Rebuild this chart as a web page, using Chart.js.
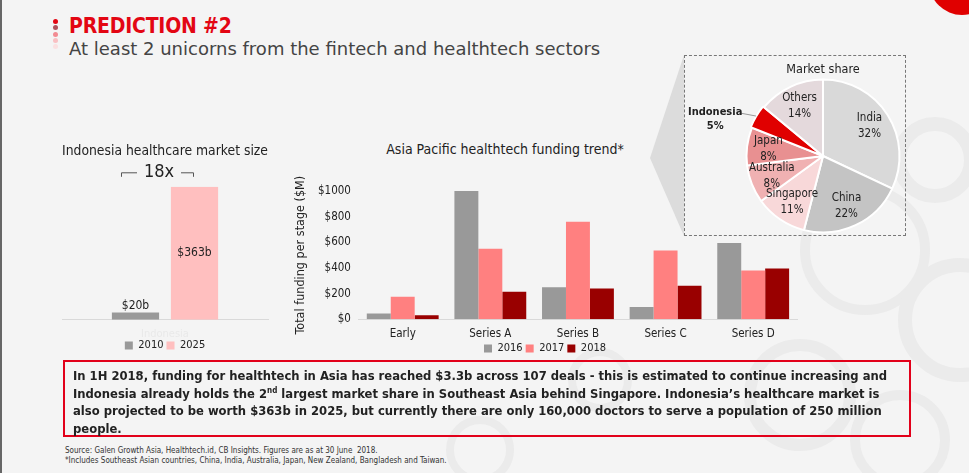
<!DOCTYPE html>
<html>
<head>
<meta charset="utf-8">
<script src="https://cdn.jsdelivr.net/npm/chart.js@4.4.0/dist/chart.umd.min.js"></script>
<style>
  html, body { margin: 0; padding: 0; }
  body {
    width: 969px; height: 473px; position: relative; overflow: hidden;
    background: #f4f4f4; font-family: "DejaVu Sans Condensed", "DejaVu Sans", sans-serif; color: #222;
  }
  .abs { position: absolute; }
  #edge { left: 0; top: 0; width: 2px; height: 473px; background: #666; }
  #dots { left: 53px; top: 19px; }
  #dots i { display: block; width: 5px; height: 5px; border-radius: 3px; margin-bottom: 1.3px; }
  #head1 { left: 69px; top: 14px; font-size: 21px; font-weight: bold; color: #e30613; letter-spacing: -0.2px; }
  #head2 { left: 69px; top: 38px; font-size: 18px; color: #444; font-family: "DejaVu Sans", sans-serif; }
  #fundTitle { left: 355px; top: 141px; width: 300px; text-align: center; font-size: 14px; }
  #note { left: 63px; top: 360px; width: 836px; height: 68px; border: 2px solid #e2001a; white-space: nowrap;
          font-size: 12.9px; font-weight: bold; line-height: 17.6px; padding: 5px 0 0 8px; }
  #note sup { font-size: 8px; line-height: 0; }
  #src { left: 65px; top: 446px; font-size: 8px; line-height: 9.5px; color: #333; white-space: nowrap; }
  #pieBox { left: 684px; top: 55px; width: 220px; height: 179px; border: 1px dashed #777; }
</style>
</head>
<body>
<svg class="abs" style="left:0;top:0" width="969" height="473">
  <g fill="none" stroke="#ebebeb">
    <circle cx="935" cy="160" r="36" stroke-width="14"/>
    <circle cx="865" cy="250" r="60" stroke-width="10"/>
    <circle cx="960" cy="320" r="55" stroke-width="14"/>
    <circle cx="800" cy="395" r="50" stroke-width="12"/>
    <circle cx="900" cy="440" r="45" stroke-width="10"/>
    <circle cx="600" cy="380" r="28" stroke-width="8"/>
    <circle cx="480" cy="450" r="30" stroke-width="8"/>
  </g>
  <circle cx="962" cy="-18" r="33" fill="#e00000"/>
  <polygon points="650,158 684,55 684,236" fill="#dcdcdc"/>
</svg>
<div id="edge" class="abs"></div>
<div id="dots" class="abs">
  <i style="background:#e30613"></i><i style="background:#b0505a"></i><i style="background:#f28b92"></i><i style="background:#f9c0c3"></i><i style="background:#fbe0e1"></i>
</div>
<div id="head1" class="abs">PREDICTION #2</div>
<div id="head2" class="abs">At least 2 unicorns from the fintech and healthtech sectors</div>

<div class="abs" style="left:55px;top:138px;width:225px;height:223px"><canvas id="sizeChart"></canvas></div>
<div id="fundTitle" class="abs">Asia Pacific healthtech funding trend*</div>
<div class="abs" style="left:290px;top:138px;width:515px;height:226px"><canvas id="fundChart"></canvas></div>
<div id="pieBox" class="abs"><canvas id="shareChart"></canvas></div>

<div id="note" class="abs">In 1H 2018, funding for healthtech in Asia has reached $3.3b across 107 deals - this is estimated to continue increasing and<br>Indonesia already holds the 2<sup>nd</sup> largest market share in Southeast Asia behind Singapore. Indonesia’s healthcare market is<br>also projected to be worth $363b in 2025, but currently there are only 160,000 doctors to serve a population of 250 million<br>people.</div>
<div id="src" class="abs">Source: Galen Growth Asia, Healthtech.id, CB Insights. Figures are as at 30 June&nbsp; 2018.<br>*Includes Southeast Asian countries, China, India, Australia, Japan, New Zealand, Bangladesh and Taiwan.</div>

<script>
// ---- data ----
const marketLabels = ["Indonesia"];
const market2010 = [20];
const market2025 = [363];
const marketTags = ["$20b", "$363b"];
const growthTag = "18x";

const stages = ["Early", "Series A", "Series B", "Series C", "Series D"];
const fund2016 = [45, 1000, 250, 95, 595];
const fund2017 = [175, 550, 760, 535, 380];
const fund2018 = [30, 215, 240, 260, 395];
const fundTicks = [0, 200, 400, 600, 800, 1000];

const countries = ["India", "China", "Singapore", "Australia", "Japan", "Indonesia", "Others"];
const shares = [32, 22, 11, 8, 8, 5, 14];

const FONT = "'DejaVu Sans Condensed', 'DejaVu Sans', sans-serif";
Chart.defaults.font.family = FONT;
Chart.defaults.color = "#222";
Chart.defaults.animation = false;
Chart.defaults.plugins.tooltip.enabled = false;

const $ = (id) => document.getElementById(id);
const legendLabels = { boxWidth: 8, boxHeight: 8, padding: 3, font: { size: 11 } };
// pull the legend a bit closer to the category labels
const squeeze = (px) => (axis) => { axis.height -= px; };

/* ---------- Indonesia healthcare market size ---------- */
const sizeLabels = {
  id: "sizeLabels",
  afterDatasetsDraw(chart) {
    const ctx = chart.ctx;
    const b0 = chart.getDatasetMeta(0).data[0];
    const b1 = chart.getDatasetMeta(1).data[0];
    ctx.save();
    ctx.fillStyle = "#222";
    ctx.textAlign = "center";
    ctx.font = "12px " + FONT;
    ctx.textBaseline = "bottom";
    ctx.fillText(marketTags[0], b0.x, b0.y - 1);
    ctx.textBaseline = "middle";
    ctx.fillText(marketTags[1], b1.x, (b1.y + b1.base) / 2);
    // 18x bracket
    const y = chart.chartArea.top - 14;
    const mid = (b0.x + b1.x) / 2 - 6;
    ctx.font = "18px " + FONT;
    ctx.fillText(growthTag, mid, y);
    ctx.strokeStyle = "#555";
    ctx.lineWidth = 1;
    ctx.beginPath();
    ctx.moveTo(b0.x - 14, y + 4); ctx.lineTo(b0.x - 14, y); ctx.lineTo(mid - 22, y);
    ctx.moveTo(mid + 22, y); ctx.lineTo(b1.x - 1, y); ctx.lineTo(b1.x - 1, y + 4);
    ctx.stroke();
    ctx.restore();
  }
};

new Chart($("sizeChart"), {
  type: "bar",
  data: {
    labels: marketLabels,
    datasets: [
      { label: "2010", data: market2010, backgroundColor: "#999999" },
      { label: "2025", data: market2025, backgroundColor: "#ffbfbf" }
    ]
  },
  options: {
    responsive: true, maintainAspectRatio: false,
    layout: { padding: { left: 7, right: 12, top: 0, bottom: 0 } },
    datasets: { bar: { categoryPercentage: 0.573, barPercentage: 0.8 } },
    scales: {
      x: { grid: { display: false, drawTicks: false }, border: { color: "#d9d9d9" },
           ticks: { color: "#e9e9e9", font: { size: 11 }, padding: 8 }, afterFit: squeeze(12) },
      y: { display: false, min: 0, max: 363 }
    },
    plugins: {
      title: { display: true, text: "Indonesia healthcare market size", font: { size: 14, weight: "normal" },
               padding: { top: 5, bottom: 27 }, color: "#222" },
      legend: { position: "bottom", labels: legendLabels }
    }
  },
  plugins: [sizeLabels]
});

/* ---------- Asia Pacific healthtech funding trend ---------- */
new Chart($("fundChart"), {
  type: "bar",
  data: {
    labels: stages,
    datasets: [
      { label: "2016", data: fund2016, backgroundColor: "#999999" },
      { label: "2017", data: fund2017, backgroundColor: "#ff8080" },
      { label: "2018", data: fund2018, backgroundColor: "#990000" }
    ]
  },
  options: {
    responsive: true, maintainAspectRatio: false,
    layout: { padding: { left: 3, right: 8, top: 53, bottom: 0 } },
    datasets: { bar: { categoryPercentage: 0.82, barPercentage: 1.0 } },
    scales: {
      x: { grid: { display: false, drawTicks: false }, border: { color: "#d9d9d9" },
           ticks: { font: { size: 11.5 }, padding: 8 }, afterFit: squeeze(9) },
      y: {
        min: 0, max: 1000,
        afterBuildTicks: (axis) => { axis.ticks = fundTicks.map(v => ({ value: v })); },
        grid: { display: false, drawTicks: false }, border: { display: false },
        ticks: { font: { size: 11.5 }, padding: 8, callback: (v) => "$" + v },
        title: { display: true, text: "Total funding per stage ($M)", font: { size: 12.5 }, padding: { top: 0, bottom: 2 } }
      }
    },
    plugins: {
      legend: { position: "bottom", labels: legendLabels }
    }
  }
});

/* ---------- Market share pie ---------- */
const pieLabels = {
  id: "pieLabels",
  afterDatasetsDraw(chart) {
    const ctx = chart.ctx;
    const arcs = chart.getDatasetMeta(0).data;
    ctx.save();
    ctx.fillStyle = "#222";
    ctx.textAlign = "center";
    ctx.textBaseline = "middle";
    arcs.forEach((arc, i) => {
      const a = (arc.startAngle + arc.endAngle) / 2;
      const r = arc.outerRadius;
      if (countries[i] === "Indonesia") {
        const ex = arc.x + Math.cos(a) * r, ey = arc.y + Math.sin(a) * r;
        ctx.strokeStyle = "#999"; ctx.lineWidth = 1;
        ctx.beginPath(); ctx.moveTo(ex - 1, ey - 1); ctx.lineTo(ex - 17, ey - 4); ctx.stroke();
        ctx.font = "bold 11px " + FONT;
        ctx.fillText(countries[i], ex - 42, ey - 5);
        ctx.fillText(shares[i] + "%", ex - 42, ey + 9);
        return;
      }
      const x = arc.x + Math.cos(a) * r * 0.72, y = arc.y + Math.sin(a) * r * 0.72;
      ctx.font = "11.5px " + FONT;
      ctx.fillText(countries[i], x, y - 8);
      ctx.fillText(shares[i] + "%", x, y + 8);
    });
    ctx.restore();
  }
};

new Chart($("shareChart"), {
  type: "pie",
  data: {
    labels: countries,
    datasets: [{
      data: shares,
      backgroundColor: ["#d9d9d9", "#c4c4c4", "#f8d8d9", "#f0b1b2", "#e89091", "#e00000", "#e4d9dc"],
      borderColor: "#ffffff", borderWidth: 2,
      offset: [0, 0, 0, 0, 0, 3, 0]
    }]
  },
  options: {
    responsive: true, maintainAspectRatio: false,
    layout: { padding: { left: 58, right: 2, top: 0, bottom: 0 } },
    plugins: {
      title: { display: true, fullSize: false, text: "Market share", font: { size: 12.5, weight: "normal" },
               padding: { top: 6, bottom: 0 }, color: "#222" },
      legend: { display: false }
    }
  },
  plugins: [pieLabels]
});
</script>
</body>
</html>
